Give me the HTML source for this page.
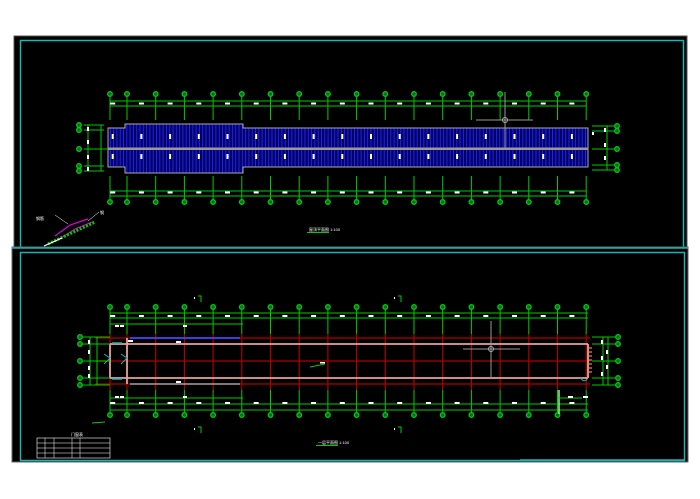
<!DOCTYPE html>
<html><head><meta charset="utf-8"><style>
html,body{margin:0;padding:0;background:#fff;width:700px;height:499px;overflow:hidden}
svg{display:block;font-family:"Liberation Sans","Noto Sans CJK SC",sans-serif}
</style></head><body>
<svg width="700" height="499" viewBox="0 0 700 499" xmlns="http://www.w3.org/2000/svg">
<defs>
<pattern id="hp" x="0" y="0" width="3.3" height="10" patternUnits="userSpaceOnUse">
<rect width="3.3" height="10" fill="#000066"/><rect x="1" width="0.8" height="10" fill="#2a2aff"/>
</pattern>
<g id="col">
<line x1="0" y1="96" x2="0" y2="120" stroke="#0c0"/>
<line x1="0" y1="176" x2="0" y2="200" stroke="#0c0"/>
<circle cx="0" cy="94" r="2.3" fill="#063" stroke="#0c0" stroke-width="1.3"/>
<circle cx="0" cy="202" r="2.3" fill="#063" stroke="#0c0" stroke-width="1.3"/>
</g>
<g id="tc">
<use href="#col"/>
<rect x="-16.8" y="102.5" width="5" height="2" fill="#fff"/>
<rect x="-16.8" y="191.5" width="5" height="2" fill="#fff"/>
<rect x="-15.3" y="134" width="2" height="5" fill="#fff"/>
<rect x="-15.3" y="154" width="2" height="5" fill="#fff"/>
</g>
<g id="bcol">
<line x1="0" y1="309" x2="0" y2="334" stroke="#0c0"/>
<line x1="0" y1="334" x2="0" y2="390" stroke="#b00000" stroke-width="1.2"/>
<line x1="0" y1="390" x2="0" y2="413" stroke="#0c0"/>
<circle cx="0" cy="307" r="2.3" fill="#063" stroke="#0c0" stroke-width="1.3"/>
<circle cx="0" cy="415" r="2.3" fill="#063" stroke="#0c0" stroke-width="1.3"/>
</g>
<g id="bc">
<use href="#bcol"/>
<rect x="-16.8" y="315" width="5" height="2" fill="#fff"/>
<rect x="-16.8" y="402" width="5" height="2" fill="#fff"/>
</g>
</defs>
<rect x="0" y="0" width="700" height="499" fill="#fff"/>
<!-- top panel -->
<rect x="14" y="36" width="673" height="211" fill="#000" stroke="#555"/>
<rect x="20.5" y="40.5" width="663" height="210" fill="none" stroke="#1bb3b3" stroke-width="1.5"/>
<!-- bottom panel -->
<rect x="12" y="247" width="676" height="215" fill="#000" stroke="#666"/>
<rect x="20.5" y="252.5" width="664" height="208" fill="none" stroke="#1bb3b3" stroke-width="1.5"/>
<line x1="12" y1="248" x2="688" y2="248" stroke="#1bb3b3" stroke-width="1.5"/>
<line x1="520" y1="460" x2="685" y2="460" stroke="#1bb3b3" stroke-width="1.5"/>

<!-- ===== TOP PLAN ===== -->
<path d="M108 128 H125 V124 H243 V128 H588 V167 H243 V173 H125 V167 H108 Z" fill="url(#hp)" stroke="#aaa" stroke-width="1"/>
<rect x="108" y="147.5" width="480" height="2.5" fill="#999"/>
<g stroke="#0c0">
<line x1="110" y1="101" x2="586" y2="101"/><line x1="110" y1="106" x2="586" y2="106"/>
<line x1="110" y1="191" x2="586" y2="191"/><line x1="110" y1="196" x2="586" y2="196"/>
</g>
<use href="#col" x="110"/><use href="#tc" x="127"/><use href="#tc" x="155.7"/><use href="#tc" x="184.4"/><use href="#tc" x="213.1"/><use href="#tc" x="241.8"/><use href="#tc" x="270.5"/><use href="#tc" x="299.2"/><use href="#tc" x="327.9"/><use href="#tc" x="356.6"/><use href="#tc" x="385.3"/><use href="#tc" x="414"/><use href="#tc" x="442.7"/><use href="#tc" x="471.4"/><use href="#tc" x="500.1"/><use href="#tc" x="528.8"/><use href="#tc" x="557.5"/><use href="#tc" x="586.2"/>
<!-- left axes top -->
<g stroke="#0c0"><line x1="84" y1="125" x2="104" y2="125"/><line x1="84" y1="130" x2="104" y2="130"/><line x1="84" y1="149" x2="108" y2="149"/><line x1="84" y1="166" x2="104" y2="166"/><line x1="84" y1="171" x2="104" y2="171"/><line x1="88" y1="125" x2="88" y2="171"/><line x1="101" y1="125" x2="101" y2="171"/></g>
<g fill="#063" stroke="#0c0" stroke-width="1.3"><circle cx="79" cy="125" r="2.3"/><circle cx="79" cy="130" r="2.3"/><circle cx="79" cy="149" r="2.3"/><circle cx="79" cy="166" r="2.3"/><circle cx="79" cy="171" r="2.3"/></g>
<g fill="#fff"><rect x="87" y="127" width="2" height="4"/><rect x="87" y="140" width="2" height="4"/><rect x="87" y="155" width="2" height="4"/><rect x="87" y="167" width="2" height="4"/></g>
<!-- right axes top -->
<g stroke="#0c0"><line x1="592" y1="126" x2="617" y2="126"/><line x1="592" y1="131" x2="617" y2="131"/><line x1="592" y1="149" x2="617" y2="149"/><line x1="592" y1="165" x2="617" y2="165"/><line x1="592" y1="170" x2="617" y2="170"/><line x1="607" y1="126" x2="607" y2="170"/></g>
<g fill="#063" stroke="#0c0" stroke-width="1.3"><circle cx="617" cy="126" r="2.3"/><circle cx="617" cy="131" r="2.3"/><circle cx="617" cy="149" r="2.3"/><circle cx="617" cy="165" r="2.3"/><circle cx="617" cy="170" r="2.3"/></g>
<g fill="#fff"><rect x="604" y="128" width="2" height="4"/><rect x="604" y="143" width="2" height="4"/><rect x="604" y="156" width="2" height="4"/><rect x="592" y="132" width="2" height="3"/></g>
<line x1="505" y1="92" x2="505" y2="148" stroke="#999"/><line x1="476" y1="120" x2="533" y2="120" stroke="#999"/><circle cx="505" cy="120" r="2.5" fill="none" stroke="#aaa"/>
<text x="309" y="231" fill="#fff" font-size="4">屋顶平面图 1:100</text>
<rect x="307" y="232" width="22" height="1" fill="#0c0"/>

<!-- ===== BOTTOM PLAN ===== -->
<g stroke="#0c0">
<line x1="110" y1="313" x2="588" y2="313"/><line x1="110" y1="318" x2="588" y2="318"/><line x1="110" y1="324" x2="243" y2="324"/>
<line x1="110" y1="398" x2="243" y2="398"/><line x1="110" y1="404" x2="588" y2="404"/><line x1="110" y1="410" x2="588" y2="410"/>
</g>
<g stroke="#b00000" stroke-width="1.2"><line x1="95" y1="338" x2="590" y2="338"/><line x1="95" y1="361" x2="590" y2="361"/><line x1="95" y1="384" x2="590" y2="384"/></g>
<use href="#bcol" x="110"/><use href="#bc" x="127"/><use href="#bc" x="155.7"/><use href="#bc" x="184.4"/><use href="#bc" x="213.1"/><use href="#bc" x="241.8"/><use href="#bc" x="270.5"/><use href="#bc" x="299.2"/><use href="#bc" x="327.9"/><use href="#bc" x="356.6"/><use href="#bc" x="385.3"/><use href="#bc" x="414"/><use href="#bc" x="442.7"/><use href="#bc" x="471.4"/><use href="#bc" x="500.1"/><use href="#bc" x="528.8"/><use href="#bc" x="557.5"/><use href="#bc" x="586.2"/>
<g stroke="#e8a0a0" stroke-width="1.8"><line x1="110" y1="344" x2="588" y2="344"/><line x1="110" y1="378" x2="588" y2="378"/><line x1="110" y1="344" x2="110" y2="378"/><line x1="127" y1="338" x2="127" y2="384"/><line x1="588" y1="344" x2="588" y2="378"/></g>
<line x1="130" y1="338" x2="240" y2="338" stroke="#44f" stroke-width="1.8"/>
<line x1="130" y1="384" x2="240" y2="384" stroke="#bbb" stroke-width="1.2"/>
<g fill="#fff"><rect x="128" y="340" width="5" height="2"/><rect x="176" y="341" width="5" height="2"/><rect x="176" y="381" width="5" height="2"/><rect x="115" y="325" width="4" height="2"/><rect x="120" y="325" width="4" height="2"/><rect x="115" y="396" width="4" height="2"/><rect x="120" y="396" width="4" height="2"/><rect x="183" y="325" width="4" height="2"/><rect x="183" y="396" width="4" height="2"/></g>
<g stroke="#1bb3b3" stroke-width="1.5"><line x1="112" y1="343" x2="122" y2="343"/><line x1="112" y1="379" x2="122" y2="379"/></g>
<path d="M104 354 L110 358 L104 364 M121 354 L127 358 L121 364 M580 377 Q584 384 588 378" fill="none" stroke="#1bb3b3" stroke-width="1"/>
<g stroke="#c96" stroke-width="1.2"><line x1="588" y1="348" x2="592" y2="348"/><line x1="588" y1="352" x2="592" y2="352"/><line x1="588" y1="356" x2="592" y2="356"/><line x1="588" y1="360" x2="592" y2="360"/><line x1="588" y1="364" x2="592" y2="364"/><line x1="588" y1="368" x2="592" y2="368"/><line x1="588" y1="372" x2="592" y2="372"/></g>
<!-- bottom axes -->
<g stroke="#0c0"><line x1="82" y1="337" x2="110" y2="337"/><line x1="82" y1="344" x2="110" y2="344"/><line x1="82" y1="361" x2="110" y2="361"/><line x1="82" y1="378" x2="110" y2="378"/><line x1="82" y1="385" x2="110" y2="385"/><line x1="90" y1="337" x2="90" y2="385"/><line x1="97" y1="337" x2="97" y2="385"/>
<line x1="592" y1="337" x2="617" y2="337"/><line x1="592" y1="344" x2="617" y2="344"/><line x1="592" y1="361" x2="617" y2="361"/><line x1="592" y1="378" x2="617" y2="378"/><line x1="592" y1="385" x2="617" y2="385"/><line x1="603" y1="337" x2="603" y2="385"/><line x1="608" y1="337" x2="608" y2="385"/></g>
<g fill="#063" stroke="#0c0" stroke-width="1.3"><circle cx="80" cy="337" r="2.3"/><circle cx="80" cy="344" r="2.3"/><circle cx="80" cy="361" r="2.3"/><circle cx="80" cy="378" r="2.3"/><circle cx="80" cy="385" r="2.3"/><circle cx="618" cy="337" r="2.3"/><circle cx="618" cy="344" r="2.3"/><circle cx="618" cy="361" r="2.3"/><circle cx="618" cy="378" r="2.3"/><circle cx="618" cy="385" r="2.3"/></g>
<g fill="#fff"><rect x="88" y="340" width="2" height="4"/><rect x="88" y="350" width="2" height="4"/><rect x="88" y="366" width="2" height="4"/><rect x="88" y="374" width="2" height="4"/><rect x="601" y="340" width="2" height="4"/><rect x="601" y="356" width="2" height="4"/><rect x="601" y="372" width="2" height="4"/><rect x="606" y="350" width="2" height="4"/><rect x="606" y="365" width="2" height="4"/></g>
<line x1="491" y1="321" x2="491" y2="378" stroke="#999"/><line x1="463" y1="349" x2="520" y2="349" stroke="#999"/><circle cx="491" cy="349" r="2.5" fill="none" stroke="#aaa"/>
<line x1="310" y1="367" x2="325" y2="364" stroke="#0c0"/><rect x="320" y="362" width="5" height="1.5" fill="#fff"/>
<line x1="559" y1="390" x2="559" y2="414" stroke="#8f8" stroke-width="1.5"/><line x1="559" y1="398" x2="582" y2="398" stroke="#0c0"/>
<rect x="568" y="396" width="5" height="2" fill="#fff"/><rect x="583" y="396" width="5" height="2" fill="#fff"/>
<path d="M198 296 h3 v6 M398 296 h3 v6 M198 427 h3 v6 M398 427 h3 v6 M92 423 L105 422" fill="none" stroke="#0c0" stroke-width="1"/>
<g fill="#fff"><rect x="194" y="297" width="1" height="2"/><rect x="394" y="297" width="1" height="2"/><rect x="194" y="428" width="1" height="2"/><rect x="394" y="428" width="1" height="2"/></g>
<text x="318" y="444" fill="#fff" font-size="4">一层平面图 1:100</text>
<rect x="316" y="445" width="22" height="1" fill="#0c0"/>
<!-- table -->
<text x="71" y="436" fill="#fff" font-size="4">门窗表</text>
<rect x="37" y="438" width="73" height="20" fill="none" stroke="#fff" stroke-width="0.6"/>
<g stroke="#fff" stroke-width="0.5">
<line x1="37" y1="443" x2="110" y2="443"/><line x1="37" y1="448" x2="110" y2="448"/><line x1="37" y1="453" x2="110" y2="453"/>
<line x1="45" y1="438" x2="45" y2="458"/><line x1="54" y1="438" x2="54" y2="458"/><line x1="72" y1="438" x2="72" y2="458"/><line x1="80" y1="438" x2="80" y2="458"/>
</g>
<!-- detail top-left -->
<path d="M55 236 L70 225 L88 219" stroke="#d0d" stroke-width="1.2" fill="none"/>
<path d="M58 240 L75 229 L92 222" stroke="#d0d" stroke-width="1.2" fill="none"/>
<path d="M48 244 L95 222" stroke="#0c0" stroke-width="3" fill="none" stroke-dasharray="2 1.5"/>
<path d="M44 246 L62 238" stroke="#fff" stroke-width="1.2" fill="none"/>
<path d="M55 215 L68 224 M99 212 L88 221" stroke="#fff" stroke-width="0.5" fill="none"/>
<text x="36" y="220" fill="#fff" font-size="4">钢筋</text>
<text x="100" y="214" fill="#fff" font-size="4">钢</text>
</svg>
</body></html>
